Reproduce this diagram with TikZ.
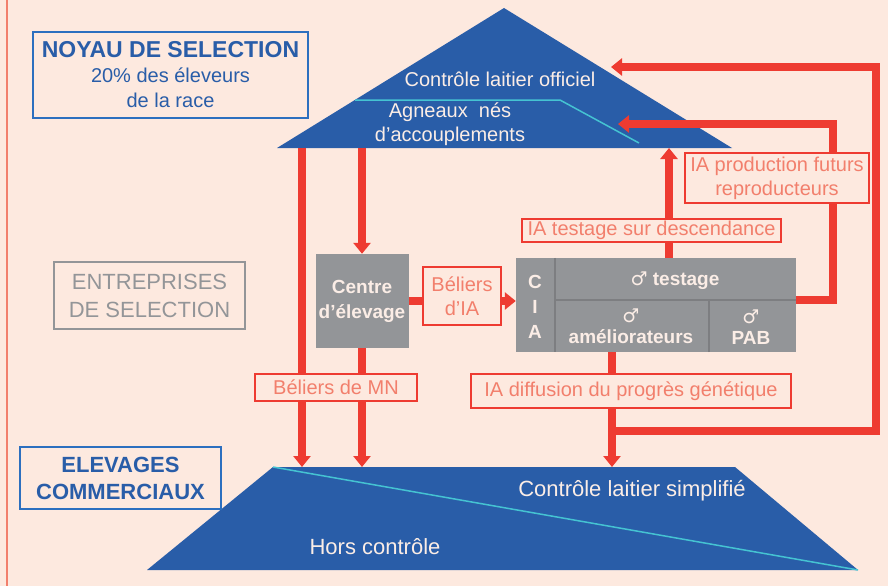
\documentclass[tikz,border=0pt]{standalone}
\usepackage{fontspec}
\setmainfont{Liberation Sans}
\newfontfamily\symbfont{DejaVu Sans}
\usetikzlibrary{positioning,calc,arrows.meta}

\definecolor{fond}{HTML}{FDE9DF}
\definecolor{bleu}{HTML}{295DA8}
\definecolor{cadre}{HTML}{2C6FBF}
\definecolor{turq}{HTML}{45C3D2}
\definecolor{rouge}{HTML}{EE3B31}
\definecolor{saumon}{HTML}{F27F6C}
\definecolor{gris}{HTML}{939598}
\definecolor{grisfonce}{HTML}{7D7E81}
\definecolor{blanc}{HTML}{FBEDE6}

\newcommand{\symmale}{{\symbfont ♂}}

\begin{document}
\begin{tikzpicture}[x=1pt, y=-1pt,
    flux/.style={draw=rouge, line width=8pt, -{Triangle[width=17pt,length=11pt]}},
    lbl/.style={rectangle, draw=rouge, line width=2pt, fill=fond, text=saumon, font=\fontsize{20}{24}\selectfont, inner sep=0pt, align=center},
    bloc/.style={rectangle, fill=gris, text=blanc, font=\bfseries\fontsize{19}{25}\selectfont, inner sep=0pt, align=center},
    titre/.style={rectangle, line width=2pt, inner sep=0pt, align=center},
    txt/.style={text=blanc, font=\fontsize{20}{24}\selectfont, inner sep=0pt, align=center},
    sep/.style={draw=grisfonce, line width=1.5pt},
    ]
    \fill[fond] (0,0) rectangle (888,586);
    \useasboundingbox (0,0) rectangle (888,586);
    \draw[saumon, line width=1.5pt] (7,0) -- (7,586);

    %%% noyau de selection %%%
    \coordinate (noyau_l) at (277,148);
    \coordinate (noyau_t) at (504,8);
    \coordinate (noyau_r) at (732,148);
    \fill[bleu] (noyau_l) -- (noyau_t) -- (noyau_r) -- cycle;
    \draw[turq, line width=1.5pt] (355,100) -- (560,100) -- (639,143);
    \node[txt] (cl_off) at (500,79) {Contrôle laitier officiel};
    \node[txt] (agneaux) at (450,124) {Agneaux\ \ nés\\d’accouplements};

    %%% elevages commerciaux %%%
    \coordinate (com_tl) at (273,467);
    \coordinate (com_tr) at (735,467);
    \coordinate (com_br) at (858,570);
    \coordinate (com_bl) at (147,570);
    \fill[bleu] (com_tl) -- (com_tr) -- (com_br) -- (com_bl) -- cycle;
    \draw[turq, line width=1.5pt] (com_tl) -- (com_br);
    \node[txt, font=\fontsize{22}{24}\selectfont] (cl_simp) at (632,491) {Contrôle laitier simplifié};
    \node[txt, font=\fontsize{22}{24}\selectfont] (hors) at (375,547) {Hors contrôle};

    % titles on the left
    \node[titre, draw=cadre, text=bleu, minimum width=275pt, minimum height=86pt,
          font=\fontsize{20}{25}\selectfont] (noyau) at (170.5,75)
          {{\bfseries\fontsize{23}{26}\selectfont NOYAU DE SELECTION}\\20\% des éleveurs\\de la race};
    \node[titre, draw=gris, line width=1.5pt, text=gris, minimum width=191pt, minimum height=67pt,
          font=\fontsize{22}{28}\selectfont] (entreprises) at (149.5,295.5) {ENTREPRISES\\DE SELECTION};
    \node[titre, draw=cadre, text=bleu, minimum width=201pt, minimum height=62pt,
          font=\bfseries\fontsize{22}{27}\selectfont] (elevages) at (120.5,478) {ELEVAGES\\COMMERCIAUX};

    %%% entreprises de selection %%%
    \node[bloc, minimum width=93pt, minimum height=94pt] (centre) at (362,301) {Centre\\d’élevage};
    \node[bloc, minimum width=280pt, minimum height=94pt] (cia) at (656,305) {};
    \draw[sep] (cia.north west) ++(39,0) -- ++(0,94);
    \draw[sep] (cia.west) ++(39,-5) -- ++(241,0);
    \draw[sep] (cia.south west) ++(193,0) -- ++(0,-52);
    \node[bloc, fill=none] (c_i_a) at (535,307) {C\\I\\A};
    \node[bloc, fill=none] (testage) at (675,281) {\symmale\ testage};
    \node[bloc, fill=none, font=\bfseries\fontsize{19}{21}\selectfont] (amelio) at (631,326) {\symmale\\améliorateurs};
    \node[bloc, fill=none, font=\bfseries\fontsize{19}{21}\selectfont] (pab) at (751,327) {\symmale\\PAB};

    % arrows going down
    \coordinate (mn_1) at (302,148);
    \coordinate (mn_2) at (362,148);
    \draw[flux] (mn_1) -- (mn_1 |- com_tl);
    \draw[flux] (mn_2) -- (centre.north);
    \draw[flux] (centre.south) -- (centre.south |- com_tl);
    \draw[flux] (centre.east) -- (centre.east -| cia.west);
    % arrows going back up
    \coordinate (test_up) at (669,148);
    \coordinate (cia_div) at (796,300);
    \coordinate (prod_c) at (833,124);
    \coordinate (prod_tip) at (618,124);
    \coordinate (diff_x) at (612,431);
    \coordinate (outer_c) at (876,67);
    \coordinate (outer_tip) at (611,67);
    \draw[flux] (test_up |- cia.north) -- (test_up);
    \draw[flux] (cia_div) -| (prod_c) -- (prod_tip);
    \draw[flux] (diff_x |- cia.south) -- (diff_x |- com_tl);
    \draw[flux] (diff_x) -| (outer_c) -- (outer_tip);

    % labels
    \node[lbl, minimum width=162pt, minimum height=27pt] (lab_mn) at (336,387.5) {Béliers de MN};
    \node[lbl, minimum width=78pt, minimum height=58pt] (lab_ia) at (462,296) {Béliers\\d’IA};
    \node[lbl, minimum width=259pt, minimum height=23pt] (lab_test) at (651.5,230.5) {IA testage sur descendance};
    \node[lbl, minimum width=184pt, minimum height=50pt] (lab_prod) at (777,178) {IA production futurs\\reproducteurs};
    \node[lbl, minimum width=320pt, minimum height=34pt] (lab_diff) at (631,391) {IA diffusion du progrès génétique};
\end{tikzpicture}
\end{document}
